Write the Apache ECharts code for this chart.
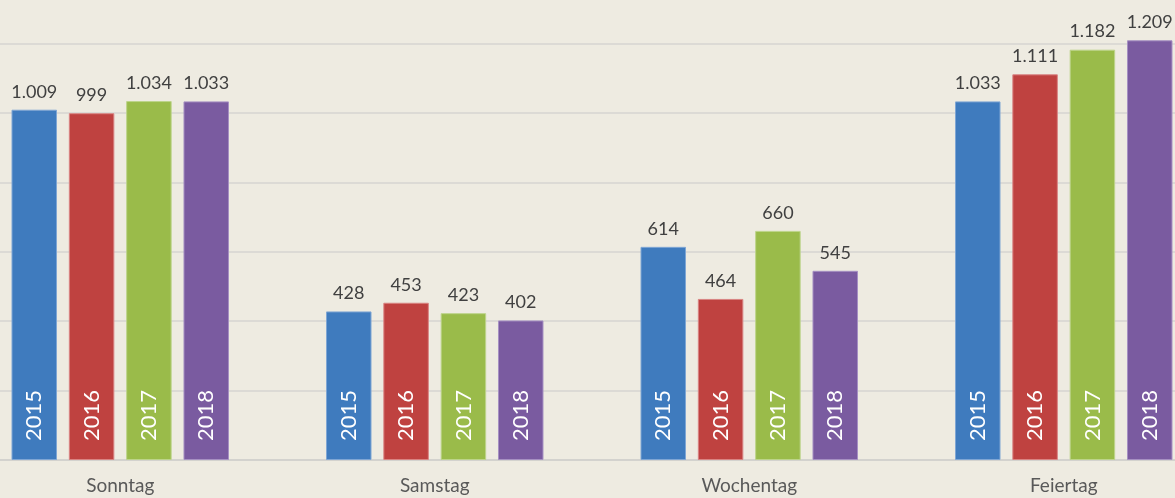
<!DOCTYPE html>
<html>
<head>
<meta charset="utf-8">
<script src="https://cdn.jsdelivr.net/npm/echarts@6/dist/echarts.min.js"></script>
<style>
  html, body { margin: 0; padding: 0; background: #EEEBE1; overflow: hidden; width: 1175px; height: 498px; position: relative; }
  /* Diagramm ist im Original links und oben angeschnitten */
  #chart { position: absolute; left: -37px; top: -26px; width: 1258px; height: 524px; }
</style>
</head>
<body>
<div id="chart"></div>
<script>
// Kategorien und Werte
const categories = ["Sonntag", "Samstag", "Wochentag", "Feiertag"];
const years = ["2015", "2016", "2017", "2018"];
const s2015 = [1009, 428, 614, 1033];
const s2016 = [999, 453, 464, 1111];
const s2017 = [1034, 423, 660, 1182];
const s2018 = [1033, 402, 545, 1209];
const colors = ["#3F7BBE", "#BF4240", "#9ABB4A", "#7A5BA0"];
const borders = ["#7FA6D4", "#D98482", "#BDD48A", "#A690C2"];

const seriesData = [s2015, s2016, s2017, s2018];
const font = "Lato, 'Open Sans', sans-serif";

// 1.009 statt 1,009
const fmt = (v) => String(v).replace(/\B(?=(\d{3})+(?!\d))/g, ".");

const myChart = echarts.init(document.getElementById("chart"));

let series = [];
seriesData.forEach((data, i) => {
  series.push({
    name: years[i],
    type: "bar",
    xAxisIndex: 0,
    data: data,
    barWidth: 45.5,
    barGap: "26%",
    itemStyle: { color: colors[i], borderColor: borders[i], borderWidth: 1 },
    label: {
      show: true,
      position: "top",
      distance: 9,
      color: "#404040",
      fontSize: 18,
      fontFamily: font,
      formatter: (p) => fmt(p.value),
    },
    silent: true,
  });
});
// zweite Achse nur fuer die Jahreszahlen in den Balken
seriesData.forEach((data, i) => {
  series.push({
    name: years[i] + "_lbl",
    type: "bar",
    xAxisIndex: 1,
    data: data,
    barWidth: 45.5,
    barGap: "26%",
    itemStyle: { color: "rgba(0,0,0,0)" },
    label: {
      show: true,
      position: "insideBottom",
      distance: 19,
      rotate: 90,
      align: "left",
      verticalAlign: "middle",
      color: "#ffffff",
      fontSize: 22,
      fontFamily: font,
      formatter: () => years[i],
    },
    silent: true,
    z: 3,
  });
});

const option = {
  backgroundColor: "#EEEBE1",
  animation: false,
  grid: { left: 0, right: 0, top: 0, bottom: 38, containLabel: false },
  xAxis: [
    {
      type: "category",
      data: categories,
      axisLine: { show: true, lineStyle: { color: "#D0CFCB", width: 1.5 } },
      axisTick: { show: false },
      axisLabel: { color: "#595959", fontSize: 19, fontFamily: font, margin: 16 },
    },
    {
      type: "category",
      data: categories,
      show: false,
    },
  ],
  yAxis: {
    type: "value",
    min: 0,
    max: 1400,
    interval: 200,
    axisLabel: { show: false },
    axisLine: { show: false },
    axisTick: { show: false },
    splitLine: { show: true, lineStyle: { color: "#D6D5D1", width: 1.5 } },
  },
  series: series,
};
myChart.setOption(option, true);
</script>
</body>
</html>
